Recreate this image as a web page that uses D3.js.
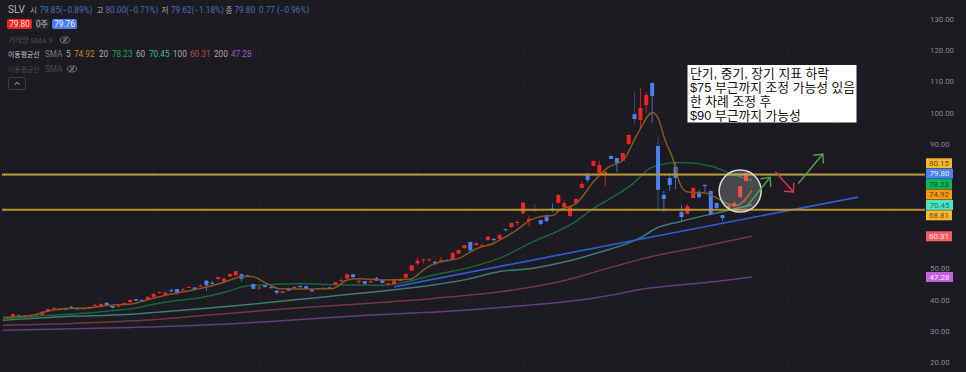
<!DOCTYPE html>
<html>
<head>
<meta charset="utf-8">
<script src="https://cdn.jsdelivr.net/npm/d3@7"></script>
<style>
    html, body { margin: 0; padding: 0; background: #1b1b21; overflow: hidden; }
    svg { display: block; font-family: Roboto, "Noto Sans CJK KR", sans-serif; }
</style>
</head>
<body>
<div id="chart"></div>
<script>
// Candles
const opens = [34.2,34.2,34.9,34.7,34.7,35.0,35.1,36.2,37.1,37.0,37.3,37.6,37.3,37.1,37.1,38.1,38.0,39.0,38.0,37.8,
    38.2,39.2,40.1,39.9,40.1,40.9,42.2,41.5,43.0,43.4,43.1,43.9,43.9,44.2,46.1,45.4,46.6,45.8,47.4,47.8,
    48.2,47.8,45.0,43.7,44.6,44.0,42.9,42.2,43.7,43.5,44.4,44.3,43.1,43.6,43.7,43.9,44.8,46.2,46.8,48.1,
    45.9,45.9,45.8,46.9,46.3,44.7,45.0,46.2,47.0,49.3,51.6,52.8,52.8,52.2,52.6,52.7,53.0,54.7,56.5,58.5,
    57.5,57.4,59.1,59.5,59.4,62.6,63.3,64.8,67.7,65.2,68.9,65.5,67.1,69.2,71.0,69.7,66.8,71.0,75.8,80.0,
    82.9,80.6,80.0,86.1,85.4,84.5,89.9,99.5,97.6,102.4,109.5,89.3,73.6,79.0,82.6,68.1,67.5,72.6,74.5,76.8,
    74.8,71.0,67.1,69.4,70.3,72.9,78.0];
const closes = [34.4,35.3,34.7,34.9,34.8,35.4,36.1,37.0,37.3,36.7,36.8,37.2,36.9,37.2,37.6,38.3,38.6,38.3,37.4,38.0,
    38.9,39.9,39.7,39.6,40.9,41.8,42.4,42.3,42.8,42.2,43.3,44.1,43.2,44.5,44.6,45.2,47.2,46.7,48.2,49.1,
    46.7,47.6,43.5,43.9,44.0,43.9,42.2,42.7,42.9,44.1,44.0,43.4,42.7,43.7,43.6,43.8,45.6,46.3,48.1,47.2,
    46.0,45.1,45.9,46.1,45.4,45.2,46.5,46.3,48.3,51.0,52.5,52.9,52.9,51.5,52.7,52.6,55.0,55.9,57.5,55.8,
    58.1,57.5,60.2,59.1,60.7,62.4,64.6,64.9,71.1,65.9,68.7,64.3,65.2,69.0,73.6,71.0,69.7,72.3,77.1,78.4,
    84.5,83.2,80.9,85.1,83.8,87.0,92.8,97.9,101.5,105.6,105.3,75.2,72.3,76.8,79.0,66.5,70.0,75.8,72.9,76.4,
    67.5,69.4,66.2,70.0,71.0,76.4,80.6];
const highs = [34.5,35.6,35.3,35.0,34.9,35.5,36.2,37.1,37.7,37.1,37.5,38.0,37.4,37.4,37.9,38.6,38.8,39.1,38.1,38.4,
    39.0,40.0,40.2,40.0,41.0,42.3,42.6,42.5,43.5,43.5,43.9,44.2,44.0,44.9,46.2,46.0,47.3,47.1,48.3,49.2,
    48.4,48.0,45.1,44.4,44.7,44.4,43.0,42.8,43.8,44.2,44.5,44.4,43.2,43.8,44.0,44.2,45.7,46.8,48.4,48.2,
    46.6,46.0,46.3,47.3,46.5,45.3,46.6,46.8,48.4,51.1,53.5,53.0,53.2,52.3,53.7,53.0,55.1,56.0,57.6,58.6,
    58.4,57.9,60.3,59.7,61.2,62.8,64.7,65.5,71.3,67.0,70.7,65.6,67.2,70.7,73.7,71.8,69.8,72.4,77.9,80.8,
    84.6,84.6,81.8,86.2,85.5,87.1,92.9,106.6,108.0,106.3,109.6,92.2,74.8,80.6,84.1,70.3,70.7,76.0,75.2,76.9,
    75.0,71.1,67.2,70.7,71.6,76.5,80.7];
const lows = [34.1,34.1,34.4,34.4,34.5,34.9,35.0,36.1,36.9,36.6,36.6,37.0,36.8,37.0,37.0,38.0,37.9,38.2,37.2,37.5,
    38.1,39.1,39.5,39.5,40.0,40.8,42.0,41.4,42.5,41.5,42.8,43.8,42.8,44.1,42.9,44.8,46.5,45.7,47.3,47.7,
    45.8,47.4,43.4,43.2,43.9,43.6,41.5,42.1,42.8,43.4,43.9,43.3,42.4,43.4,43.2,43.6,44.7,45.3,46.7,47.0,
    45.0,44.9,45.2,46.0,45.2,44.6,44.9,45.8,46.9,49.2,51.0,51.6,52.4,51.0,52.2,52.3,52.9,54.6,56.4,55.0,
    57.4,57.0,59.0,58.7,59.3,61.8,63.0,63.6,67.4,63.5,68.1,63.9,64.8,68.1,70.9,69.6,66.6,70.8,75.7,77.6,
    82.8,79.7,76.3,85.0,80.8,84.4,89.8,96.3,95.0,99.8,96.6,68.8,68.1,74.8,75.5,65.2,67.4,72.5,72.3,74.5,
    67.2,69.2,65.2,69.1,69.7,72.3,77.9];
// Candles whose long wick shows darker in the picture
const dimWicks = [90, 107, 111];

// Moving averages, each with the candle positions it was read at
const ma5Idx = [-0.7,4.5,6.8,9.6,14.1,18.1,21.5,24.4,27.2,30.6,33.5,36.3,38.6,40,41.7,44.3,46.5,50,55.6,58,60.2,64.2,68.7,71,72.7,75,77.2,80.1,83,84.6,86.9,89.2,90.9,93.1,94.3,97.1,100,102.3,105.1,107.4,110.1,111,112.2,113.6,114.7,115.9,119.3,122.1,124.1,125.2,127];
const ma5 = [34.3,35.1,36.2,37.1,37.4,38.3,38.7,40.2,41.5,42.7,43.8,45.2,46.6,47.4,47.4,45.2,43.5,43.4,43.6,46.3,46.7,46.3,46.5,49.5,51.4,52.5,53.4,56.4,58.1,59.7,62.3,65.5,66.6,67.0,68.8,70.9,77.8,82.2,84.8,92.8,100,98.2,91.2,84.8,77.4,74.6,74.1,71.4,70.1,70.9,74.92];
const ma20Idx = [-0.7,6.2,13,17.5,21.5,24.4,28.9,32.9,37.4,40.8,44.3,50,58.5,64.2,68.7,72.7,78.4,84,89.7,94.3,96.6,100,103.4,106.8,109.6,111.3,114.2,117.6,120.4,123.3,127];
const ma20 = [33.8,34.8,35.6,36.4,37.2,38.3,39.7,40.6,42.5,44.4,44.8,45.1,44.7,44.6,46.0,47.9,50.1,53.3,58.6,62.3,64.6,69.3,73.0,77.3,82.1,83.2,84.0,83.7,82.6,80.5,78.23];
const ma60Idx = [-0.7,10.2,20.4,27.2,34,42,50,55.6,64.2,72.7,78.4,84,89.7,95.4,101,107.9,110.7,114.7,119.3,122.7,127];
const ma60 = [33.4,34.6,35.2,36.2,37.2,38.6,40.1,41.2,42.8,44.7,46.5,49.0,50.1,52.2,55.2,59.7,62.9,65.0,67.1,68.5,70.45];
const ma100Idx = [-0.7,10.2,21.5,32.9,44.3,50,61.3,72.7,84,95.4,101,109.6,118.2,127];
const ma100 = [31.8,32.3,33.2,34.8,36.6,37.4,38.8,40.4,42.5,46.3,49.3,53.7,56.9,60.31];
const ma200Idx = [-0.7,21.5,38.6,50,60,78.4,101,109.6,118.2,127];
const ma200 = [30.2,31.1,32.3,33.6,34.8,36.7,40.8,43.7,45.3,47.28];

// Drawn levels and annotations, as [candle position, price]
const levels = [80.15, 68.81];
const currentPrice = 79.80;
const trendLine = [[66, 44.1], [145.1, 72.9]];
const greenArrow1 = [[126.1, 69.8], [130.1, 79.2]];
const redArrow = [[131, 81.0], [134.1, 74.5]];
const greenArrow2 = [[134.9, 77.2], [139.1, 86.7]];
const circleCentre = [125, 74.8];
const noteLines = ['단기, 중기, 장기 지표 하락', '$75 부근까지 조정 가능성 있음', '한 차례 조정 후', '$90 부근까지 가능성'];

// Right axis: the 80, 70 and 60 labels sit behind the price labels in the picture
const gridPrices = [130, 120, 110, 100, 90, 80, 70, 60, 50, 40, 30, 20];
const priceTicks = [130, 120, 110, 100, 90, 50, 40, 30, 20];
const gridIdx = [7, 16, 25, 34, 43, 52, 61, 70, 79, 88, 97, 106, 115, 124, 133, 142, 151];
const stackLabels = ['80.15', '79.80', '78.23', '74.92', '70.45', '68.81'];
const stackValues = [80.15, 79.80, 78.23, 74.92, 70.45, 68.81];
const stackFill = ['#f7b733', '#4f7ef2', '#06b85c', '#fb9a06', '#4fe6c6', '#f7b733'];
const stackText = ['#6b5010', '#e8eefc', '#0d4a28', '#6b4208', '#177a66', '#6b5010'];

const width = 966, height = 372;
const x = d3.scaleLinear().domain([0, 126]).range([7, 746]);
const y = d3.scaleLinear().domain([20, 130]).range([362, 19]);

const svg = d3.select('#chart').append('svg').attr('width', width).attr('height', height);

drawGrid();
drawLevels(true);
drawAverages();
drawCandles();
drawTrendLine();
drawAverageOnTop();
drawLevels(false);
drawCircle();
drawArrow(greenArrow1, '#4ea64a');
drawArrow(redArrow, '#d9364b');
drawArrow(greenArrow2, '#4ea64a');
drawNote();
drawAxis();
drawPriceLabels();
drawLegend();

// Faint dotted grid
function drawGrid() {
    svg.append('g').selectAll('line').data(gridPrices).enter().append('line')
        .attr('x1', 0).attr('x2', 925)
        .attr('y1', d => y(d)).attr('y2', d => y(d))
        .attr('stroke', '#28282f').attr('stroke-dasharray', '1,2');
    svg.append('g').selectAll('line').data(gridIdx).enter().append('line')
        .attr('x1', d => x(d)).attr('x2', d => x(d))
        .attr('y1', 0).attr('y2', height)
        .attr('stroke', '#28282f').attr('stroke-dasharray', '1,2');
}

function maLine(idx, values, color) {
    const line = d3.line()
        .x(i => x(idx[i]))
        .y(i => y(values[i]))
        .curve(d3.curveMonotoneX);
    svg.append('path')
        .attr('d', line(d3.range(idx.length)))
        .attr('fill', 'none')
        .attr('stroke', color)
        .attr('stroke-width', 1.5);
}

function drawAverages() {
    maLine(ma200Idx, ma200, '#64397a');
    maLine(ma100Idx, ma100, '#74363e');
    maLine(ma60Idx, ma60, '#3a7a72');
    maLine(ma20Idx, ma20, '#156638');
}

function drawAverageOnTop() {
    maLine(ma5Idx, ma5, '#83561c');
}

// Candles: red is up, blue is down
function drawCandles() {
    const up = '#f2231f', down = '#4a80f5';
    const candles = d3.range(opens.length);
    const color = i => closes[i] >= opens[i] ? up : down;

    svg.append('g').selectAll('line').data(candles).enter().append('line')
        .attr('x1', i => x(i)).attr('x2', i => x(i))
        .attr('y1', i => y(highs[i])).attr('y2', i => y(lows[i]))
        .attr('stroke', color)
        .attr('stroke-opacity', i => dimWicks.includes(i) ? 0.45 : 0.8);

    svg.append('g').selectAll('rect').data(candles).enter().append('rect')
        .attr('x', i => x(i) - 2)
        .attr('width', 4)
        .attr('y', i => y(Math.max(opens[i], closes[i])))
        .attr('height', i => Math.max(1, Math.abs(y(opens[i]) - y(closes[i]))))
        .attr('fill', color);
}

function drawTrendLine() {
    svg.append('line')
        .attr('x1', x(trendLine[0][0])).attr('y1', y(trendLine[0][1]))
        .attr('x2', x(trendLine[1][0])).attr('y2', y(trendLine[1][1]))
        .attr('stroke', '#2a5bd0').attr('stroke-width', 1.7);
}

// Gold horizontal levels, dotted current price under them
function drawLevels(dotted) {
    if (dotted) {
        svg.append('line')
            .attr('x1', 2).attr('x2', 925)
            .attr('y1', y(currentPrice)).attr('y2', y(currentPrice))
            .attr('stroke', '#4f7ef2').attr('stroke-opacity', 0.6).attr('stroke-dasharray', '1,1');
        return;
    }
    svg.append('g').selectAll('line').data(levels).enter().append('line')
        .attr('x1', 2).attr('x2', 925)
        .attr('y1', d => y(d)).attr('y2', d => y(d))
        .attr('stroke', '#b8952f').attr('stroke-width', 2);
}

function drawCircle() {
    svg.append('circle')
        .attr('cx', x(circleCentre[0])).attr('cy', y(circleCentre[1]))
        .attr('r', 21)
        .attr('fill', '#ffffff').attr('fill-opacity', 0.2)
        .attr('stroke', '#dcdcdc').attr('stroke-width', 1.5);
}

function drawArrow(points, color) {
    const x1 = x(points[0][0]), y1 = y(points[0][1]);
    const x2 = x(points[1][0]), y2 = y(points[1][1]);
    const angle = Math.atan2(y2 - y1, x2 - x1);
    const head = 9.5, spread = 0.75;
    const g = svg.append('g').attr('fill', 'none').attr('stroke', color).attr('stroke-width', 1.4);
    g.append('line').attr('x1', x1).attr('y1', y1).attr('x2', x2).attr('y2', y2);
    g.append('polyline').attr('points', [
        [x2 - head * Math.cos(angle - spread), y2 - head * Math.sin(angle - spread)],
        [x2, y2],
        [x2 - head * Math.cos(angle + spread), y2 - head * Math.sin(angle + spread)]
    ].join(' '));
}

// White note box
function drawNote() {
    const g = svg.append('g');
    g.append('rect')
        .attr('x', 687.5).attr('y', 65)
        .attr('width', 169).attr('height', 57.5)
        .attr('fill', '#ffffff');
    g.selectAll('text').data(noteLines).enter().append('text')
        .attr('x', 690)
        .attr('y', (d, i) => 78 + i * 14)
        .attr('fill', '#111111')
        .attr('font-size', 12.8)
        .attr('font-family', '"Liberation Sans", "Noto Sans CJK KR", sans-serif')
        .text(d => d);
}

function drawAxis() {
    const axis = svg.append('g')
        .attr('transform', 'translate(930,0)')
        .call(d3.axisRight(y).tickValues(priceTicks).tickSize(0).tickPadding(0).tickFormat(d3.format('.2f')));
    axis.select('.domain').remove();
    axis.selectAll('text').attr('fill', '#85858c').attr('font-size', 7.8).attr('font-family', 'Roboto, sans-serif');
}

function priceLabel(text, centre, fill, textColor, w) {
    svg.append('rect')
        .attr('x', 926).attr('y', centre - 5)
        .attr('width', w).attr('height', 10)
        .attr('fill', fill);
    svg.append('text')
        .attr('x', 926 + w / 2).attr('y', centre + 2.8)
        .attr('text-anchor', 'middle')
        .attr('fill', textColor)
        .attr('font-size', 8)
        .text(text);
}

// The crowded labels are stacked around their mean position
function drawPriceLabels() {
    const step = 10.4;
    const mean = d3.mean(stackValues, d => y(d));
    stackLabels.forEach((label, i) => {
        const wide = label === '79.80' || label === '70.45';
        priceLabel(label, mean + (i - (stackLabels.length - 1) / 2) * step, stackFill[i], stackText[i], wide ? 27 : 26);
    });
    priceLabel('60.31', y(60.31), '#f75b62', '#fbe3e4', 26);
    priceLabel('47.28', y(47.28), '#c562e2', '#f7e6fb', 27);
}

function legendText(text, lx, ly, color, size) {
    svg.append('text')
        .attr('x', lx).attr('y', ly)
        .attr('fill', color)
        .attr('font-size', size || 8.2)
        .text(text);
}

function badge(text, bx, w, fill, color) {
    svg.append('rect')
        .attr('x', bx).attr('y', 19)
        .attr('width', w).attr('height', 10).attr('rx', 2)
        .attr('fill', fill);
    svg.append('text')
        .attr('x', bx + w / 2).attr('y', 27)
        .attr('text-anchor', 'middle')
        .attr('fill', color).attr('font-size', 8.2)
        .text(text);
}

function eyeIcon(cx, cy) {
    const g = svg.append('g').attr('fill', 'none').attr('stroke', '#77777e').attr('stroke-width', 0.9);
    g.append('ellipse').attr('cx', cx).attr('cy', cy).attr('rx', 4.6).attr('ry', 3);
    g.append('circle').attr('cx', cx).attr('cy', cy).attr('r', 1.3);
    g.append('line').attr('x1', cx - 3.5).attr('y1', cy + 3.5).attr('x2', cx + 3.5).attr('y2', cy - 3.5);
}

// Top-left symbol and indicator legend
function drawLegend() {
    const blue = '#4a69b8', grey = '#a8a8ae', dim = '#4a4a52';
    legendText('SLV', 8, 13, '#b5b5bb', 10);
    legendText('시', 30, 12.5, grey, 7.5);
    legendText('79.85(−0.89%)', 39.5, 12.5, blue);
    legendText('고', 96.5, 12.5, grey, 7.5);
    legendText('80.00(−0.71%)', 105.5, 12.5, blue);
    legendText('저', 161.5, 12.5, grey, 7.5);
    legendText('79.62(−1.18%)', 171, 12.5, blue);
    legendText('종', 225.5, 12.5, grey, 7.5);
    legendText('79.80', 234.5, 12.5, blue);
    legendText('0.77 (−0.96%)', 259, 12.5, blue);

    badge('79.80', 7, 25, '#f2231f', '#fbe4e4');
    badge('0주', 35, 14, '#2c2c33', '#bcbcc2');
    badge('79.76', 52, 25, '#4f7ef2', '#e8eefc');

    legendText('거래량 SMA 9', 8, 42.5, dim, 7.5);
    eyeIcon(65, 40);

    legendText('이동평균선', 8, 57, '#c4c4ca', 6.9);
    legendText('SMA', 45, 57, '#77777e');
    legendText('5', 66, 57, grey);
    legendText('74.92', 74, 57, '#c9821a');
    legendText('20', 99, 57, grey);
    legendText('78.23', 112, 57, '#16a356');
    legendText('60', 136, 57, grey);
    legendText('70.45', 149, 57, '#35b5a0');
    legendText('100', 173, 57, grey);
    legendText('60.31', 190, 57, '#bd3f48');
    legendText('200', 214, 57, grey);
    legendText('47.28', 231, 57, '#a050c0');

    legendText('이동평균선', 8, 72, dim, 6.9);
    legendText('SMA', 45, 72, dim);
    eyeIcon(72, 69);

    svg.append('rect')
        .attr('x', 8.5).attr('y', 77.5)
        .attr('width', 17).attr('height', 12).attr('rx', 1.5)
        .attr('fill', 'none').attr('stroke', '#3a3a42');
    svg.append('path')
        .attr('d', d3.line()([[14.5, 84.5], [17, 82.5], [19.5, 84.5]]))
        .attr('fill', 'none').attr('stroke', '#b0b0b6');
}
</script>
</body>
</html>
